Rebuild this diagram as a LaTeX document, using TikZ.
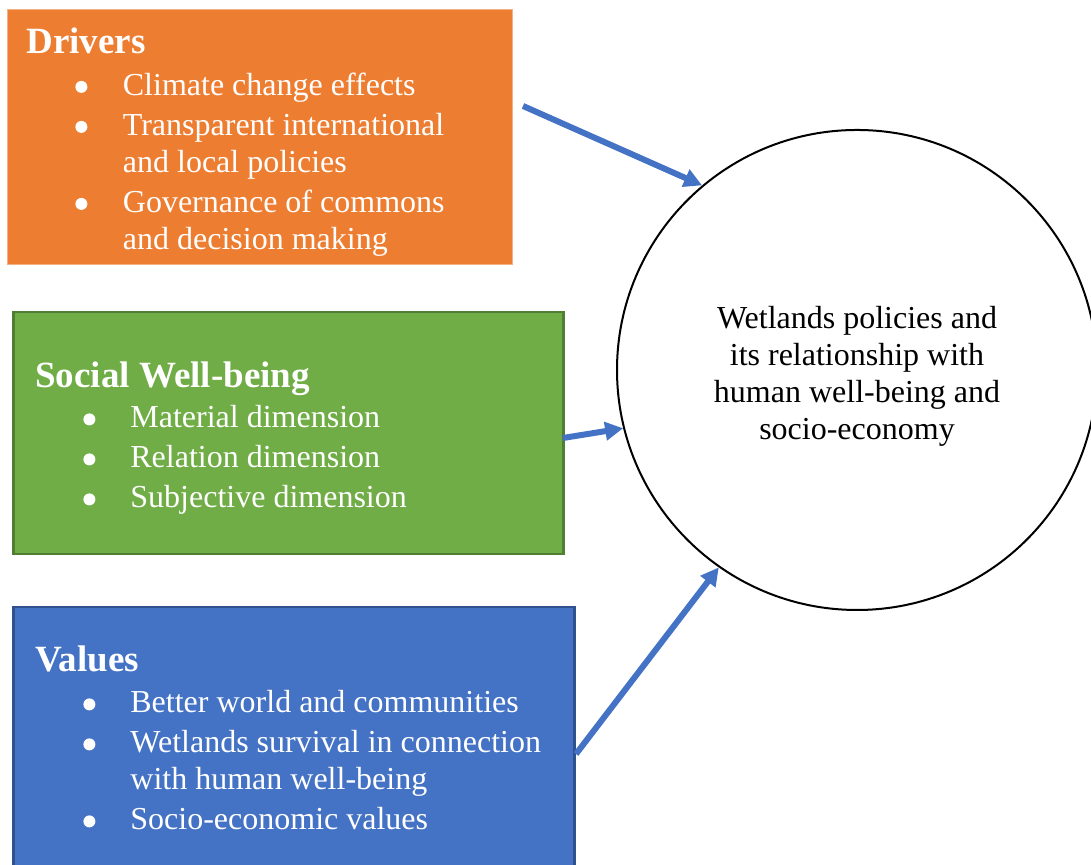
\documentclass[tikz,border=0pt]{standalone}
\usepackage{fontspec}
\setmainfont{Liberation Serif}
\usepackage{tikz}
\usetikzlibrary{arrows.meta,positioning}
\definecolor{drvorange}{HTML}{ED7D31}
\definecolor{socgreen}{HTML}{70AD47}
\definecolor{socgreendark}{HTML}{507E32}
\definecolor{valblue}{HTML}{4472C4}
\definecolor{valbluedark}{HTML}{2F528F}
\tikzset{
    %Define standard arrow tip
    >={Triangle[length=9pt,width=9pt]},
    %Define style for boxes
    drvbox/.style={
           rectangle,
           anchor=north west,
           inner sep=0pt,
           fill=drvorange,
           draw=drvorange!60!white, line width=0.5pt,
           minimum width=252.5pt,
           minimum height=127.5pt},
    socbox/.style={
           rectangle,
           anchor=north west,
           inner sep=0pt,
           fill=socgreen,
           draw=socgreendark, line width=1.25pt,
           minimum width=275pt,
           minimum height=121pt},
    valbox/.style={
           rectangle,
           anchor=north west,
           inner sep=0pt,
           fill=valblue,
           draw=valbluedark, line width=1.25pt,
           minimum width=280.5pt,
           minimum height=135pt},
    head/.style={
           anchor=base west,
           inner sep=0pt,
           text=white,
           font=\fontsize{18.5}{22}\selectfont\bfseries},
    items/.style={
           anchor=base west,
           inner sep=0pt,
           text=white,
           font=\fontsize{16}{18.5}\selectfont},
    hub/.style={
           circle,
           draw=black, line width=1pt,
           minimum size=240pt,
           inner sep=0pt},
    hubtext/.style={
           align=center,
           inner sep=0pt,
           font=\fontsize{16}{18.5}\selectfont},
    % Define arrow style
    link/.style={
           ->,
           draw=valblue,
           line width=3pt}
}
% round bullet of a list line
\newcommand{\bul}{\tikz[baseline=-4.3pt]\fill[white] (0,0) circle (3pt);}

\begin{document}
\begin{tikzpicture}[x=0.5pt,y=0.5pt]
\path[use as bounding box,clip] (0,0) rectangle (1091,865);

% the three boxes
\node[drvbox](drivers) at (7,856){};
\node[socbox](social) at (12,554){};
\node[valbox](values) at (12,259){};

\node[head](drvhead) at (26,811){Drivers};
\node[items](drvlist) at (75,769.5){\begin{tabular}[t]{@{}p{23.75pt}@{}l@{}}
\bul & Climate change effects\\[1.5pt]
\bul & Transparent international\\
     & and local policies\\[1.5pt]
\bul & Governance of commons\\
     & and decision making
\end{tabular}};

\node[head](sochead) at (35,477){Social Well-being};
\node[items](soclist) at (83,437){\begin{tabular}[t]{@{}p{23.5pt}@{}l@{}}
\bul & Material dimension\\[1.5pt]
\bul & Relation dimension\\[1.5pt]
\bul & Subjective dimension
\end{tabular}};

\node[head](valhead) at (35,193){Values};
\node[items](vallist) at (83,152){\begin{tabular}[t]{@{}p{23.5pt}@{}l@{}}
\bul & Better world and communities\\[1.5pt]
\bul & Wetlands survival in connection\\
     & with human well-being\\[1.5pt]
\bul & Socio-economic values
\end{tabular}};

% the circle in the middle
\node[hub](wetl) at (857,495){};
\node[hubtext](wetltext) at ([yshift=-3pt]wetl.center){Wetlands policies and\\its relationship with\\human well-being and\\socio-economy};

\coordinate (drvout) at (523,759);
\coordinate (socout) at (563,427);
\coordinate (valout) at (576,111);
\path
	(drvout) edge[link] (wetl.130)
	(socout) edge[link] (wetl.194)
	(valout) edge[link] (wetl.235);
\end{tikzpicture}
\end{document}
